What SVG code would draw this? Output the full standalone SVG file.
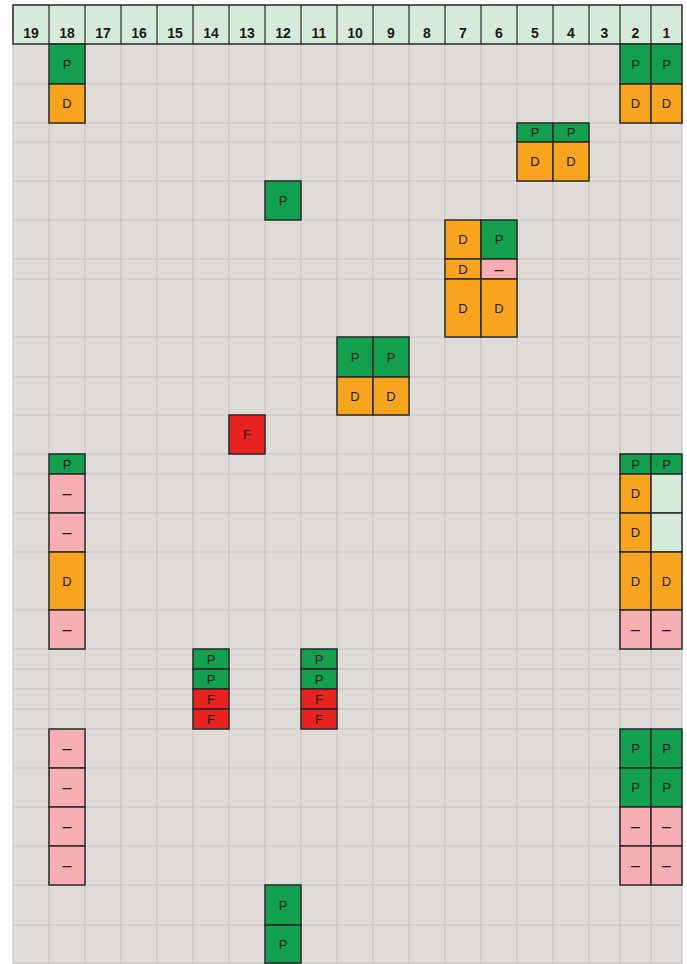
<svg xmlns="http://www.w3.org/2000/svg" width="687" height="964" viewBox="0 0 687 964">
<style>
.bg{fill:#dfdbd9}
.gl{stroke:#c8c4c2;stroke-width:1.2;fill:none}
.hd{fill:#d4ebd7;stroke:#2a2a2a;stroke-width:1.5}
.ht{font-family:"Liberation Sans",Arial,sans-serif;font-size:14px;font-weight:bold;fill:#1a1a1a;text-anchor:middle}
.c rect{stroke:#2a2a2a;stroke-width:1.5}
.c text{font-family:"Liberation Sans",Arial,sans-serif;font-size:13px;fill:#1e1e1e;text-anchor:middle;dominant-baseline:central}
.N text{font-size:16px}
.P rect{fill:#12a04e}
.D rect{fill:#f8a41f}
.N rect{fill:#f6aeb2}
.F rect{fill:#e8231f}
.L rect{fill:#d4ebd7}
</style>
<rect class="bg" x="13" y="44" width="669" height="920"/>
<g id="grid" class="gl">
<path d="M13,44V964M49,44V964M85,44V964M121,44V964M157,44V964M193,44V964M229,44V964M265,44V964M301,44V964M337,44V964M373,44V964M409,44V964M445,44V964M481,44V964M517,44V964M553,44V964M589,44V964M620,44V964M651,44V964M682,44V964"/>
<path d="M13,84H682M13,123H682M13,142H682M13,181H682M13,220H682M13,259H682M13,279H682M13,337H682M13,377H682M13,415H682M13,454H682M13,474H682M13,513H682M13,552H682M13,610H682M13,649H682M13,669H682M13,689H682M13,709H682M13,729H682M13,768H682M13,807H682M13,846H682M13,885H682M13,925H682M13,963H682"/>
</g>
<g id="header">
<rect class="hd" x="13" y="5" width="669" height="39"/>
<path d="M49,5V44M85,5V44M121,5V44M157,5V44M193,5V44M229,5V44M265,5V44M301,5V44M337,5V44M373,5V44M409,5V44M445,5V44M481,5V44M517,5V44M553,5V44M589,5V44M620,5V44M651,5V44" stroke="#2a2a2a" stroke-width="1.2"/>
<text class="ht" x="31" y="38">19</text>
<text class="ht" x="67" y="38">18</text>
<text class="ht" x="103" y="38">17</text>
<text class="ht" x="139" y="38">16</text>
<text class="ht" x="175" y="38">15</text>
<text class="ht" x="211" y="38">14</text>
<text class="ht" x="247" y="38">13</text>
<text class="ht" x="283" y="38">12</text>
<text class="ht" x="319" y="38">11</text>
<text class="ht" x="355" y="38">10</text>
<text class="ht" x="391" y="38">9</text>
<text class="ht" x="427" y="38">8</text>
<text class="ht" x="463" y="38">7</text>
<text class="ht" x="499" y="38">6</text>
<text class="ht" x="535" y="38">5</text>
<text class="ht" x="571" y="38">4</text>
<text class="ht" x="604.5" y="38">3</text>
<text class="ht" x="635.5" y="38">2</text>
<text class="ht" x="666.5" y="38">1</text>
</g>
<g id="connectors"></g>
<!-- column 18 -->
<g id="c18a" class="c P"><rect x="49" y="44" width="36" height="40"/><text x="67" y="64">P</text></g>
<g id="c18b" class="c D"><rect x="49" y="84" width="36" height="39"/><text x="67" y="103.5">D</text></g>
<g id="c18c" class="c P"><rect x="49" y="454" width="36" height="20"/><text x="67" y="464">P</text></g>
<g id="c18d" class="c N"><rect x="49" y="474" width="36" height="39"/><text x="67" y="493.5">–</text></g>
<g id="c18e" class="c N"><rect x="49" y="513" width="36" height="39"/><text x="67" y="532.5">–</text></g>
<g id="c18f" class="c D"><rect x="49" y="552" width="36" height="58"/><text x="67" y="581">D</text></g>
<g id="c18g" class="c N"><rect x="49" y="610" width="36" height="39"/><text x="67" y="629.5">–</text></g>
<g id="c18h" class="c N"><rect x="49" y="729" width="36" height="39"/><text x="67" y="748.5">–</text></g>
<g id="c18i" class="c N"><rect x="49" y="768" width="36" height="39"/><text x="67" y="787.5">–</text></g>
<g id="c18j" class="c N"><rect x="49" y="807" width="36" height="39"/><text x="67" y="826.5">–</text></g>
<g id="c18k" class="c N"><rect x="49" y="846" width="36" height="39"/><text x="67" y="865.5">–</text></g>
<!-- columns 2 and 1 -->
<g id="c2a" class="c P"><rect x="620" y="44" width="31" height="40"/><text x="635.5" y="64">P</text></g>
<g id="c1a" class="c P"><rect x="651" y="44" width="31" height="40"/><text x="666.5" y="64">P</text></g>
<g id="c2b" class="c D"><rect x="620" y="84" width="31" height="39"/><text x="635.5" y="103.5">D</text></g>
<g id="c1b" class="c D"><rect x="651" y="84" width="31" height="39"/><text x="666.5" y="103.5">D</text></g>
<g id="c2c" class="c P"><rect x="620" y="454" width="31" height="20"/><text x="635.5" y="464">P</text></g>
<g id="c1c" class="c P"><rect x="651" y="454" width="31" height="20"/><text x="666.5" y="464">P</text></g>
<g id="c2d" class="c D"><rect x="620" y="474" width="31" height="39"/><text x="635.5" y="493.5">D</text></g>
<g id="c1d" class="c L"><rect x="651" y="474" width="31" height="39"/></g>
<g id="c2e" class="c D"><rect x="620" y="513" width="31" height="39"/><text x="635.5" y="532.5">D</text></g>
<g id="c1e" class="c L"><rect x="651" y="513" width="31" height="39"/></g>
<g id="c2f" class="c D"><rect x="620" y="552" width="31" height="58"/><text x="635.5" y="581">D</text></g>
<g id="c1f" class="c D"><rect x="651" y="552" width="31" height="58"/><text x="666.5" y="581">D</text></g>
<g id="c2g" class="c N"><rect x="620" y="610" width="31" height="39"/><text x="635.5" y="629.5">–</text></g>
<g id="c1g" class="c N"><rect x="651" y="610" width="31" height="39"/><text x="666.5" y="629.5">–</text></g>
<g id="c2h" class="c P"><rect x="620" y="729" width="31" height="39"/><text x="635.5" y="748.5">P</text></g>
<g id="c1h" class="c P"><rect x="651" y="729" width="31" height="39"/><text x="666.5" y="748.5">P</text></g>
<g id="c2i" class="c P"><rect x="620" y="768" width="31" height="39"/><text x="635.5" y="787.5">P</text></g>
<g id="c1i" class="c P"><rect x="651" y="768" width="31" height="39"/><text x="666.5" y="787.5">P</text></g>
<g id="c2j" class="c N"><rect x="620" y="807" width="31" height="39"/><text x="635.5" y="826.5">–</text></g>
<g id="c1j" class="c N"><rect x="651" y="807" width="31" height="39"/><text x="666.5" y="826.5">–</text></g>
<g id="c2k" class="c N"><rect x="620" y="846" width="31" height="39"/><text x="635.5" y="865.5">–</text></g>
<g id="c1k" class="c N"><rect x="651" y="846" width="31" height="39"/><text x="666.5" y="865.5">–</text></g>
<!-- columns 5 and 4 -->
<g id="c5a" class="c P"><rect x="517" y="123" width="36" height="19"/><text x="535" y="132.5">P</text></g>
<g id="c4a" class="c P"><rect x="553" y="123" width="36" height="19"/><text x="571" y="132.5">P</text></g>
<g id="c5b" class="c D"><rect x="517" y="142" width="36" height="39"/><text x="535" y="161.5">D</text></g>
<g id="c4b" class="c D"><rect x="553" y="142" width="36" height="39"/><text x="571" y="161.5">D</text></g>
<!-- column 12 -->
<g id="c12a" class="c P"><rect x="265" y="181" width="36" height="39"/><text x="283" y="200.5">P</text></g>
<g id="c12b" class="c P"><rect x="265" y="885" width="36" height="40"/><text x="283" y="905">P</text></g>
<g id="c12c" class="c P"><rect x="265" y="925" width="36" height="38"/><text x="283" y="944">P</text></g>
<!-- columns 7 and 6 -->
<g id="c7a" class="c D"><rect x="445" y="220" width="36" height="39"/><text x="463" y="239.5">D</text></g>
<g id="c6a" class="c P"><rect x="481" y="220" width="36" height="39"/><text x="499" y="239.5">P</text></g>
<g id="c7b" class="c D"><rect x="445" y="259" width="36" height="20"/><text x="463" y="269">D</text></g>
<g id="c6b" class="c N"><rect x="481" y="259" width="36" height="20"/><text x="499" y="269">–</text></g>
<g id="c7c" class="c D"><rect x="445" y="279" width="36" height="58"/><text x="463" y="308">D</text></g>
<g id="c6c" class="c D"><rect x="481" y="279" width="36" height="58"/><text x="499" y="308">D</text></g>
<!-- columns 10 and 9 -->
<g id="c10a" class="c P"><rect x="337" y="337" width="36" height="40"/><text x="355" y="357">P</text></g>
<g id="c9a" class="c P"><rect x="373" y="337" width="36" height="40"/><text x="391" y="357">P</text></g>
<g id="c10b" class="c D"><rect x="337" y="377" width="36" height="38"/><text x="355" y="396">D</text></g>
<g id="c9b" class="c D"><rect x="373" y="377" width="36" height="38"/><text x="391" y="396">D</text></g>
<!-- column 13 -->
<g id="c13a" class="c F"><rect x="229" y="415" width="36" height="39"/><text x="247" y="434.5">F</text></g>
<!-- columns 14 and 11 -->
<g id="c14a" class="c P"><rect x="193" y="649" width="36" height="20"/><text x="211" y="659">P</text></g>
<g id="c14b" class="c P"><rect x="193" y="669" width="36" height="20"/><text x="211" y="679">P</text></g>
<g id="c14c" class="c F"><rect x="193" y="689" width="36" height="20"/><text x="211" y="699">F</text></g>
<g id="c14d" class="c F"><rect x="193" y="709" width="36" height="20"/><text x="211" y="719">F</text></g>
<g id="c11a" class="c P"><rect x="301" y="649" width="36" height="20"/><text x="319" y="659">P</text></g>
<g id="c11b" class="c P"><rect x="301" y="669" width="36" height="20"/><text x="319" y="679">P</text></g>
<g id="c11c" class="c F"><rect x="301" y="689" width="36" height="20"/><text x="319" y="699">F</text></g>
<g id="c11d" class="c F"><rect x="301" y="709" width="36" height="20"/><text x="319" y="719">F</text></g>
</svg>
